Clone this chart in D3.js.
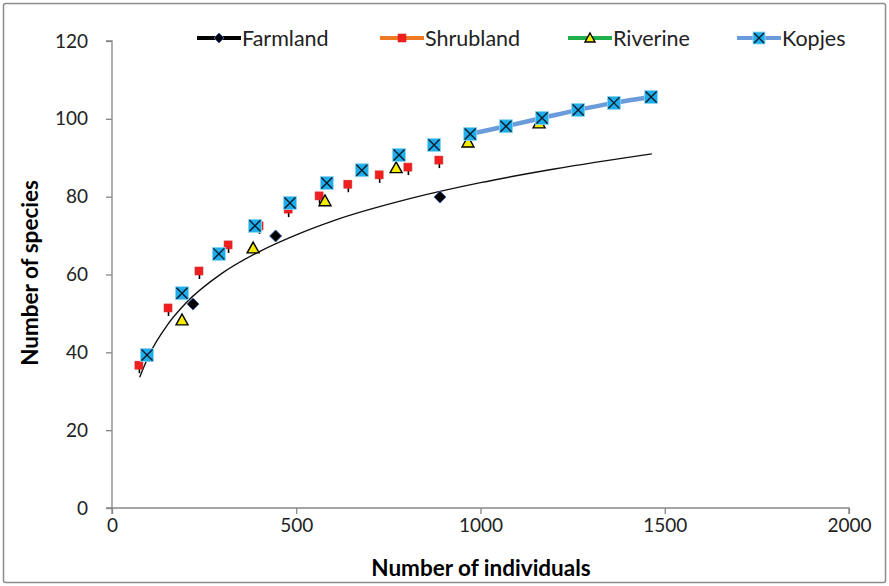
<!DOCTYPE html>
<html>
<head>
<meta charset="utf-8">
<script src="https://cdn.jsdelivr.net/npm/d3@7"></script>
<style>
body{margin:0;background:#fff}
text{font-family:Lato,"Open Sans",sans-serif}
</style>
</head>
<body>
<div id="chart"></div>
<script>
// data
var farmlandX = [220, 444, 890]
var farmlandY = [52.4, 69.9, 79.9]

// farmland trend curve
var trendX = [75, 100, 150, 200, 300, 400, 500, 600, 800, 1000, 1200, 1465]
var trendY = [33.6, 39.2, 47.0, 52.6, 60.4, 65.9, 70.2, 73.8, 79.3, 83.6, 87.1, 91.0]

var shrubX = [73, 152, 236, 315, 399, 478, 562, 640, 725, 803, 887]
var shrubY = [36.7, 51.4, 60.9, 67.6, 72.5, 76.8, 80.2, 83.2, 85.6, 87.6, 89.4]

var riverX = [190, 383, 578, 771, 966, 1159]
var riverY = [48.3, 66.8, 78.9, 87.4, 94.0, 98.9]

var kopjesX = [95, 190, 290, 388, 483, 583, 678, 779, 874, 972, 1069, 1167, 1265, 1362, 1463]
var kopjesY = [39.3, 55.2, 65.3, 72.5, 78.4, 83.5, 86.8, 90.7, 93.3, 96.1, 98.1, 100.2, 102.3, 104.1, 105.6]
var kopjesLineFrom = 9 // line only joins the last points

var xTicks = [0, 500, 1000, 1500, 2000]
var yTicks = [0, 20, 40, 60, 80, 100, 120]
var legendNames = ['Farmland', 'Shrubland', 'Riverine', 'Kopjes']
var legendLines = ['#000', '#F07A22', '#1FB04C', '#6A9BDB']

var W = 889, H = 586
var svg = d3.select('#chart').append('svg').attr('width', W).attr('height', H)

svg.append('rect')
  .attr('x', 3.5).attr('y', 3.5).attr('width', W - 7).attr('height', H - 7)
  .attr('rx', 2)
  .attr('fill', '#fff').attr('stroke', '#8c8c8c').attr('stroke-width', 1.5)

var x = d3.scaleLinear().domain([0, 2000]).range([112, 849])
var y = d3.scaleLinear().domain([0, 120]).range([508, 41])

// axes
var xAxis = svg.append('g').attr('transform', 'translate(0,508)')
  .call(d3.axisBottom(x).tickValues(xTicks).tickFormat(d3.format('d')).tickSize(6).tickPadding(5))
var yAxis = svg.append('g').attr('transform', 'translate(112,0)')
  .call(d3.axisLeft(y).tickValues(yTicks).tickSize(6).tickPadding(18))

;[xAxis, yAxis].forEach(a => {
  a.selectAll('path,line').attr('stroke', '#868686').attr('stroke-width', 1.3)
  a.selectAll('text').attr('fill', '#222').style('font-size', '19px')
    .style('font-family', 'Lato, sans-serif')
})
xAxis.select('.domain').attr('d', 'M112,6V0H849V6')
yAxis.select('.domain').attr('d', 'M-6,41H0V508H-6')

svg.append('text')
  .attr('x', 481).attr('y', 576)
  .attr('text-anchor', 'middle')
  .style('font-size', '22.5px').style('font-weight', 'bold')
  .text('Number of individuals')

svg.append('text')
  .attr('transform', 'translate(38,273) rotate(-90)')
  .attr('text-anchor', 'middle')
  .style('font-size', '22.5px').style('font-weight', 'bold')
  .text('Number of species')

// farmland trend
var trend = trendX.map((d, i) => [d, trendY[i]])
svg.append('path')
  .attr('d', d3.line().x(d => x(d[0])).y(d => y(d[1])).curve(d3.curveMonotoneX)(trend))
  .attr('fill', 'none').attr('stroke', '#111').attr('stroke-width', 1.4)

// kopjes line
var kop = kopjesX.map((d, i) => [d, kopjesY[i]])
svg.append('path')
  .attr('d', d3.line().x(d => x(d[0])).y(d => y(d[1])).curve(d3.curveMonotoneX)(kop.slice(kopjesLineFrom)))
  .attr('fill', 'none').attr('stroke', legendLines[3]).attr('stroke-width', 4.5)

// markers
function diamond(g, s){
  g.append('path').attr('d', `M0,${-s}L${s},0L0,${s}L${-s},0Z`)
    .attr('fill', '#000').attr('stroke', '#3a64a8').attr('stroke-width', 1)
}
function square(g, s){
  g.append('rect').attr('x', -s).attr('y', -s).attr('width', 2*s).attr('height', 2*s)
    .attr('fill', '#F01E1E').attr('stroke', '#d03030').attr('stroke-width', 0.6)
}
function tri(g, s){
  g.append('path').attr('d', `M0,${-s}L${s},${s*0.8}L${-s},${s*0.8}Z`)
    .attr('fill', '#F5EB00').attr('stroke', '#000').attr('stroke-width', 1.4)
}
function xmark(g, s){
  g.append('rect').attr('x', -s).attr('y', -s).attr('width', 2*s).attr('height', 2*s)
    .attr('fill', '#1EAEEB').attr('stroke', '#8fd4f0').attr('stroke-width', 0.8)
  g.append('path').attr('d', `M${-s+1},${-s+1}L${s-1},${s-1}M${s-1},${-s+1}L${-s+1},${s-1}`)
    .attr('stroke', '#0b1a2a').attr('stroke-width', 1.4)
}

var riv = riverX.map((d, i) => [d, riverY[i]])
var shr = shrubX.map((d, i) => [d, shrubY[i]])
var farm = farmlandX.map((d, i) => [d, farmlandY[i]])

svg.append('g').selectAll('g').data(shr).join('g')
  .attr('transform', d => `translate(${x(d[0])},${y(d[1])})`)
  .each(function(){
    var g = d3.select(this)
    g.append('line').attr('x1', 0.5).attr('x2', 0.5).attr('y1', 3).attr('y2', 8)
      .attr('stroke', '#000').attr('stroke-width', 1.6)
    square(g, 4)
  })

svg.append('g').selectAll('g').data(riv).join('g')
  .attr('transform', d => `translate(${x(d[0])},${y(d[1])})`)
  .each(function(){ tri(d3.select(this), 6) })

svg.append('g').selectAll('g').data(kop).join('g')
  .attr('transform', d => `translate(${x(d[0])},${y(d[1])})`)
  .each(function(){ xmark(d3.select(this), 6.5) })

svg.append('g').selectAll('g').data(farm).join('g')
  .attr('transform', d => `translate(${x(d[0])},${y(d[1])})`)
  .each(function(){ diamond(d3.select(this), 6) })

// legend
var legX = [197, 380, 568, 737]
var markers = [diamond, square, tri, xmark]
var sizes = [5, 4, 5, 6]
legendNames.forEach((name, i) => {
  var g = svg.append('g').attr('transform', `translate(${legX[i]},38)`)
  g.append('line').attr('x1', 0).attr('x2', 44).attr('stroke', legendLines[i]).attr('stroke-width', 4)
  var m = g.append('g').attr('transform', 'translate(22,0)')
  markers[i](m, sizes[i])
  g.append('text').attr('x', 45).attr('y', 7.5)
    .style('font-size', '21.5px').attr('fill', '#222')
    .text(name)
})
</script>
</body>
</html>
